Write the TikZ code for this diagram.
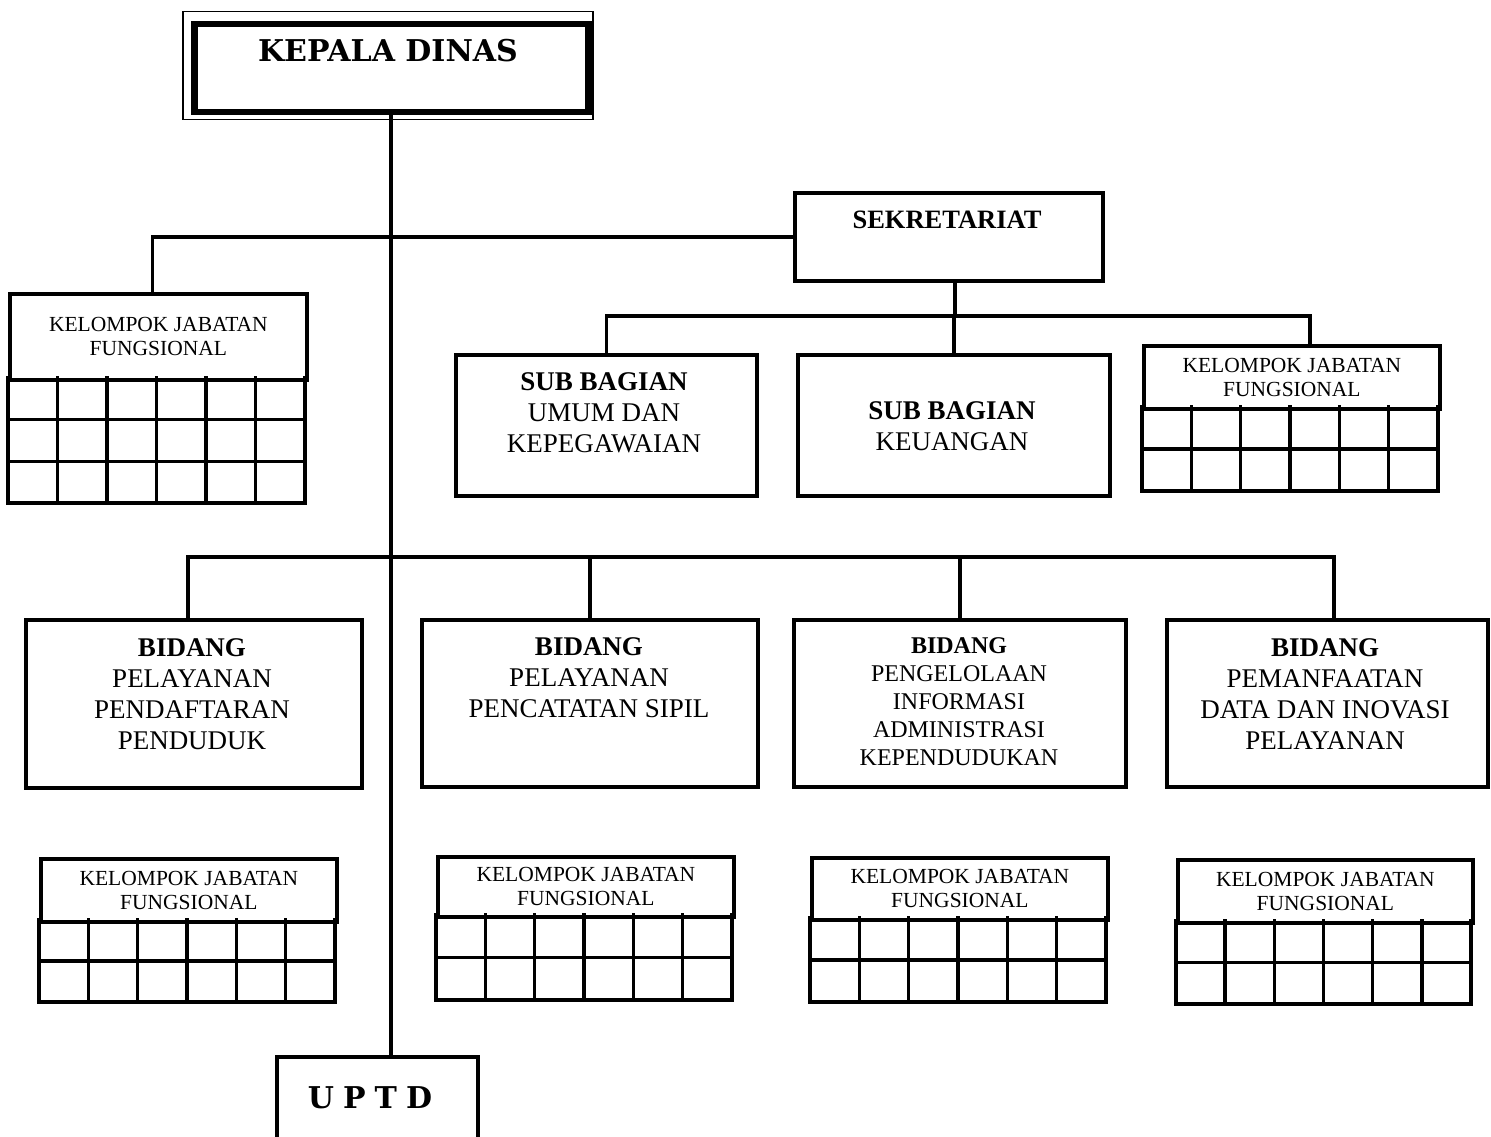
\documentclass[tikz,border=0pt]{standalone}
\usepackage{fontspec}
\setmainfont{Liberation Serif}
\newfontfamily\slabfont{DejaVu Serif}
\tikzset{
  orgbox/.style={draw, line width=3.8pt, inner sep=0pt, anchor=north west},
  conn/.style={line width=3.8pt},
  gridline/.style={line width=3.4pt, line cap=rect},
  txt/.style={inner sep=0pt, align=center},
  bigtxt/.style={txt, font=\fontsize{27}{31}\selectfont},
  midtxt/.style={txt, font=\fontsize{24}{28}\selectfont},
  slabtxt/.style={txt, font=\slabfont\bfseries\fontsize{30}{34}\selectfont},
}
\newcommand\orgboxat[5]{\node[orgbox, minimum width={#4-#2}, minimum height={#5-#3}] (#1) at (#2,#3) {};}
\newcommand\kjfblock[7]{% name, xl, yt, xr, yh, row height, rows
  \node[orgbox, minimum width={#4-#2}, minimum height={#5-#3}, align=center,
        font=\fontsize{21.5}{24}\selectfont] (#1) at (#2,#3) {KELOMPOK JABATAN\\FUNGSIONAL};
  \foreach \r in {1,...,#7}{\draw[gridline] (#2,{#5+\r*#6}) -- (#4,{#5+\r*#6});}
  \foreach \c in {0,...,6}{\draw[gridline] ({#2+\c*(#4-#2)/6},#5) -- ({#2+\c*(#4-#2)/6},{#5+#7*#6});}
}
\begin{document}
\begin{tikzpicture}[x=1pt,y=-1pt]
\path[use as bounding box, clip] (0,0) rectangle (1491,1137);
\fill[white] (0,0) rectangle (1491,1137);

% Kepala Dinas
\node[draw, line width=1.5pt, inner sep=0pt, anchor=north west, minimum width=410pt, minimum height=108pt] (kdo) at (182,11) {};
\node[draw, line width=6.5pt, inner sep=0pt, anchor=north west, minimum width=394pt, minimum height=88pt] (kd) at (191,21) {};
\node[slabtxt] (kdt) at (388,51) {KEPALA DINAS};

% Sekretariat and sub bagian
\orgboxat{sek}{793}{191}{1101}{279}
\node[bigtxt, font=\bfseries\fontsize{26.5}{31}\selectfont] (sekt) at (947,220) {SEKRETARIAT};
\orgboxat{sbu}{454}{353}{755}{494}
\node[bigtxt, anchor=north] (sbut) at (604,372) {\textbf{SUB BAGIAN}\\UMUM DAN\\KEPEGAWAIAN};
\orgboxat{sbk}{796}{353}{1108}{494}
\node[bigtxt, anchor=north] (sbkt) at (952,401) {\textbf{SUB BAGIAN}\\KEUANGAN};

% Kelompok jabatan fungsional
\kjfblock{kjfL}{8}{292}{305}{378}{41.7}{3}
\kjfblock{kjfR}{1142}{344}{1438}{407}{42}{2}
\kjfblock{kjf1}{39}{857}{335}{920}{41}{2}
\kjfblock{kjf2}{436}{855}{732}{915}{42.5}{2}
\kjfblock{kjf3}{810}{856}{1106}{918}{42}{2}
\kjfblock{kjf4}{1176}{858}{1471}{921}{41.5}{2}

% Bidang
\orgboxat{b1}{24}{618}{360}{786}
\node[bigtxt, anchor=north] (b1t) at (192,638) {\textbf{BIDANG}\\PELAYANAN\\PENDAFTARAN\\PENDUDUK};
\orgboxat{b2}{420}{618}{756}{785}
\node[bigtxt, anchor=north] (b2t) at (589,637) {\textbf{BIDANG}\\PELAYANAN\\PENCATATAN SIPIL};
\orgboxat{b3}{792}{618}{1124}{785}
\node[midtxt, anchor=north] (b3t) at (959,637) {\textbf{BIDANG}\\PENGELOLAAN\\INFORMASI\\ADMINISTRASI\\KEPENDUDUKAN};
\orgboxat{b4}{1165}{618}{1486}{785}
\node[bigtxt, anchor=north] (b4t) at (1325,638) {\textbf{BIDANG}\\PEMANFAATAN\\DATA DAN INOVASI\\PELAYANAN};

% UPTD
\orgboxat{uptd}{275}{1055}{476}{1141}
\node[slabtxt] (uptdt) at (370,1098) {U\hspace{0.3em}P\hspace{0.3em}T\hspace{0.3em}D};

% Connectors
\coordinate (sbus) at (953,316);
\coordinate (bbus) at (387,557);
\draw[conn] (kd.south) -- (kd.south |- uptd.north);
\draw[conn] (sek.west) -| ([xshift=-6pt]kjfL.north);
\draw[conn] ([xshift=6pt]sek.south) -- ([xshift=6pt]sek.south |- sbus);
\draw[conn] (sbu.north) |- ([xshift=18pt]kjfR.north |- sbus) -- ([xshift=18pt]kjfR.north);
\draw[conn] (sbk.north) -- (sbk.north |- sbus);
\draw[conn] ([xshift=-6pt]b1.north) |- ([xshift=6.5pt]b4.north |- bbus) -- ([xshift=6.5pt]b4.north);
\draw[conn] (b2.north) -- (b2.north |- bbus);
\draw[conn] (b3.north) -- (b3.north |- bbus);
\end{tikzpicture}
\end{document}
